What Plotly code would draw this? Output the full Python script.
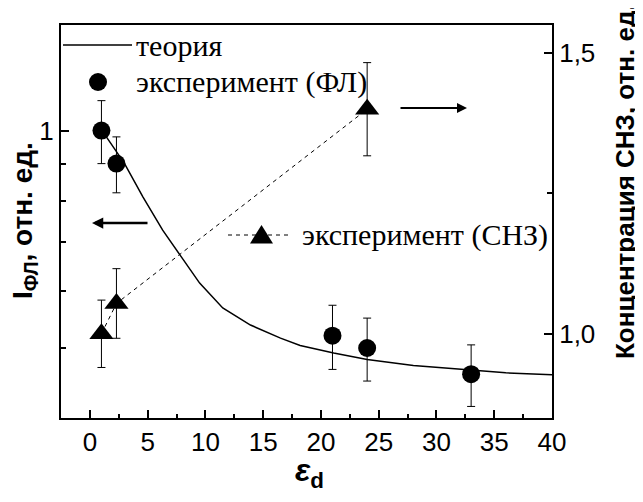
import math
import plotly.graph_objects as go

# ---------------- data ----------------
theory_x = [1.0, 1.5, 2.3, 3.0, 4.6, 6.3, 7.9, 9.5, 11.5, 13.9, 16.5, 18.2, 21.1, 24.0, 28.0, 32.7, 36.0, 40.0]
theory_y = [1.0, 0.976, 0.935, 0.90, 0.809, 0.728, 0.669, 0.615, 0.568, 0.538, 0.516, 0.504, 0.492, 0.482, 0.473, 0.466, 0.462, 0.459]

pl_x = [1.0, 2.3, 21.0, 24.0, 33.0]
pl_y = [1.0, 0.90, 0.52, 0.50, 0.46]
pl_err = [0.10, 0.08, 0.053, 0.05, 0.045]

snz_x = [1.0, 2.3, 24.0]
snz_y = [1.0, 1.054, 1.40]
snz_err = [0.06, 0.062, 0.083]

x_ticks = [0, 5, 10, 15, 20, 25, 30, 35, 40]
y_ticks = [1]
y_ticktext = ["1"]
y_minor = [0.5, 0.6, 0.7, 0.8, 0.9]
y2_ticks = [1.0, 1.5]
y2_ticktext = ["1,0", "1,5"]

legend_texts = ["теория", "эксперимент (ФЛ)", "эксперимент (СНЗ)"]
left_title = "<b>I<sub>ФЛ</sub>, отн. ед.</b>"
right_title = "<b>Концентрация СНЗ, отн. ед.</b>"
x_title = "<b><i>ε</i><sub>d</sub></b>"

# ---------------- layout geometry ----------------
# the page body has an 8px default margin: the figure is drawn at (8, 8)
OFF = 8
PAGE_W, PAGE_H = 643, 502
W, H = PAGE_W - OFF, PAGE_H - OFF
# plot area in page pixels: x 61..552, y 25..418
PL, PR, PT, PB = 61, 552, 25, 418
ML, MT = PL - OFF, PT - OFF
MR, MB = W - (PR - OFF), H - (PB - OFF)
PW, PH = PR - PL, PB - PT


def px(xp):
    return (xp - PL) / PW


def py(yp):
    return (PB - yp) / PH


SANS = "Liberation Sans, Arial, sans-serif"
SERIF = "Liberation Serif, Times New Roman, serif"
LEG_SIZE = 30

fig = go.Figure()

fig.add_trace(go.Scatter(x=theory_x, y=theory_y, mode="lines",
                         line=dict(color="black", width=1.5), yaxis="y"))

fig.add_trace(go.Scatter(x=snz_x, y=snz_y, mode="lines+markers", yaxis="y2",
                         line=dict(color="black", width=1, dash="4px,4px"),
                         marker=dict(symbol="triangle-up", size=21, color="black"),
                         error_y=dict(type="data", array=snz_err, visible=True,
                                      color="black", thickness=1, width=4)))

fig.add_trace(go.Scatter(x=pl_x, y=pl_y, mode="markers", yaxis="y",
                         marker=dict(symbol="circle", size=18, color="black"),
                         error_y=dict(type="data", array=pl_err, visible=True,
                                      color="black", thickness=1, width=4)))

shapes = []
annotations = []

# legend: theory line
shapes.append(dict(type="line", xref="paper", yref="paper",
                   x0=px(63), x1=px(132), y0=py(45), y1=py(45),
                   line=dict(color="black", width=1.5)))
annotations.append(dict(xref="paper", yref="paper", x=px(134), y=py(45),
                        text=legend_texts[0], showarrow=False, xanchor="left",
                        yanchor="middle", font=dict(family=SERIF, size=LEG_SIZE, color="black")))
# legend: circle
r = 9
shapes.append(dict(type="circle", xref="paper", yref="paper",
                   x0=px(98 - r), x1=px(98 + r), y0=py(82 + r), y1=py(82 - r),
                   fillcolor="black", line=dict(color="black", width=0)))
annotations.append(dict(xref="paper", yref="paper", x=px(134), y=py(82),
                        text=legend_texts[1], showarrow=False, xanchor="left",
                        yanchor="middle", font=dict(family=SERIF, size=LEG_SIZE, color="black")))
# legend: triangle with dashes
shapes.append(dict(type="line", xref="paper", yref="paper",
                   x0=px(228), x1=px(292), y0=py(235), y1=py(235),
                   line=dict(color="black", width=1, dash="4px,4px")))
tx, ty = 261.5, 235
path = "M {} {} L {} {} L {} {} Z".format(px(tx - 11.5), py(ty + 8.5), px(tx + 11.5), py(ty + 8.5),
                                           px(tx), py(ty - 10))
shapes.append(dict(type="path", xref="paper", yref="paper", path=path,
                   fillcolor="black", line=dict(color="black", width=0)))
annotations.append(dict(xref="paper", yref="paper", x=px(300), y=py(235),
                        text=legend_texts[2], showarrow=False, xanchor="left",
                        yanchor="middle", font=dict(family=SERIF, size=LEG_SIZE, color="black")))

# arrows
annotations.append(dict(xref="paper", yref="paper", x=px(92), y=py(223), ax=57, ay=0,
                        text="", showarrow=True, arrowhead=2, arrowsize=0.9,
                        arrowwidth=2.5, arrowcolor="black"))
annotations.append(dict(xref="paper", yref="paper", x=px(467), y=py(108), ax=-68, ay=0,
                        text="", showarrow=True, arrowhead=2, arrowsize=1,
                        arrowwidth=2, arrowcolor="black"))

# axis titles
annotations.append(dict(xref="paper", yref="paper", x=px(24), y=py(221), text=left_title,
                        textangle=-90, showarrow=False, xanchor="center", yanchor="middle",
                        font=dict(family=SANS, size=28, color="black")))
annotations.append(dict(xref="paper", yref="paper", x=px(625), y=py(181), text=right_title,
                        textangle=-90, showarrow=False, xanchor="center", yanchor="middle",
                        font=dict(family=SANS, size=26, color="black")))
annotations.append(dict(xref="paper", yref="paper", x=px(309), y=py(472), text=x_title,
                        showarrow=False, xanchor="center", yanchor="middle",
                        font=dict(family=SANS, size=32, color="black")))

axis_common = dict(showgrid=False, zeroline=False, showline=True, linecolor="black",
                   linewidth=2, ticks="inside", tickcolor="black", tickwidth=1.5, ticklen=8,
                   automargin=False,
                   tickfont=dict(family=SANS, size=26, color="black"))

fig.update_layout(
    width=W, height=H, margin=dict(l=ML, r=MR, t=MT, b=MB, autoexpand=False),
    paper_bgcolor="white", plot_bgcolor="white", showlegend=False,
    xaxis=dict(range=[-2.5, 40], tickmode="array", tickvals=x_ticks, mirror=True,
               minor=dict(dtick=2.5, tick0=0, ticks="inside", ticklen=4, tickwidth=1.5,
                          tickcolor="black"),
               **axis_common),
    yaxis=dict(type="log", range=[math.log10(0.4), math.log10(1.4)], tickmode="array",
               tickvals=y_ticks, ticktext=y_ticktext,
               minor=dict(tickmode="array", tickvals=y_minor, ticks="inside", ticklen=5,
                          tickwidth=1.5, tickcolor="black"),
               **axis_common),
    yaxis2=dict(overlaying="y", side="right", range=[0.85, 1.55], tickmode="array",
                tickvals=y2_ticks, ticktext=y2_ticktext,
                minor=dict(tickmode="array", tickvals=[1.25], ticks="inside", ticklen=5,
                           tickwidth=1.5, tickcolor="black"),
                **axis_common),
    shapes=shapes, annotations=annotations,
)

fig.write_html("out.html")
